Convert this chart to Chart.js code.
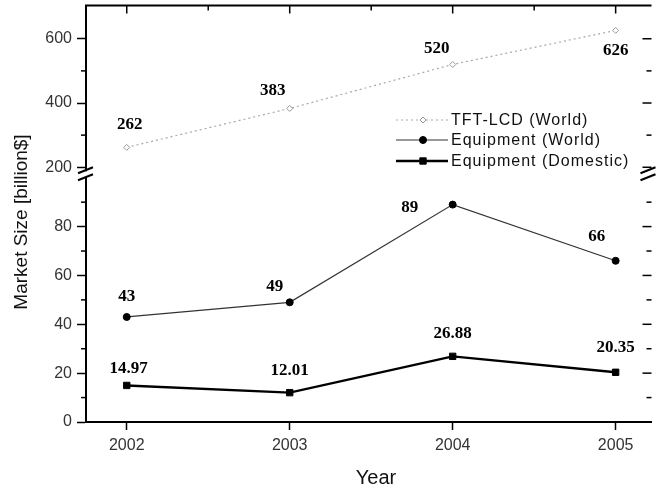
<!DOCTYPE html>
<html><head><meta charset="utf-8">
<script src="https://cdn.jsdelivr.net/npm/chart.js@4/dist/chart.umd.min.js"></script>
<style>html,body{margin:0;padding:0;background:#fff;overflow:hidden}#wrap{width:657px;height:491px;position:relative}</style>
</head><body><div id="wrap"><canvas id="c" width="657" height="491"></canvas></div>
<script>
// ---- data ----
const years = [2002, 2003, 2004, 2005];
const tftWorld = [262, 383, 520, 626];
const equipWorld = [43, 49, 89, 66];
const equipDomestic = [14.97, 12.01, 26.88, 20.35];
const seriesNames = ['TFT-LCD (World)', 'Equipment (World)', 'Equipment (Domestic)'];
const upperTicks = [200, 400, 600];
const lowerTicks = [0, 20, 40, 60, 80];
const upperMinor = [300, 500];
const lowerMinor = [10, 30, 50, 70, 90];
const xMinor = [2002.5, 2003.5, 2004.5];
const xTitle = 'Year';
const yTitle = 'Market Size [billion$]';

// label offsets (pixels) relative to each point, per dataset
const labelOffsets = [
  [[3,-23],[-17,-18],[-16,-16],[0,20]],
  [[0,-20],[-15,-16],[-43,3],[-19,-24]],
  [[2,-17],[0,-22],[0,-23],[0,-25]]
];

const pts = arr => arr.map((v,i)=>({x: years[i], y: v}));
const SANS = '"Liberation Sans", Arial, sans-serif';
const SERIF = '"Liberation Serif", "Times New Roman", serif';

const datasets = [
  {label: seriesNames[0], data: pts(tftWorld), yAxisID:'yTop', borderColor:'#a8a8a8', borderWidth:1.2, borderDash:[2,3],
   pointStyle:'rectRot', pointRadius:3, pointBackgroundColor:'#fff', pointBorderColor:'#999', pointBorderWidth:1},
  {label: seriesNames[1], data: pts(equipWorld), yAxisID:'yBot', borderColor:'#333', borderWidth:1.2,
   pointStyle:'circle', pointRadius:3.5, pointBackgroundColor:'#000', pointBorderColor:'#000', pointBorderWidth:1},
  {label: seriesNames[2], data: pts(equipDomestic), yAxisID:'yBot', borderColor:'#000', borderWidth:2.4,
   pointStyle:'rect', pointRadius:4.5, pointBackgroundColor:'#000', pointBorderColor:'#000', pointBorderWidth:1}
];

const noPad = s => { s.paddingTop = 0; s.paddingBottom = 0; s.paddingLeft = 0; s.paddingRight = 0; };

function yScale(min, max, weight, ticks) {
  return {
    type:'linear', position:'left', stack:'y', stackWeight: weight, min, max,
    afterBuildTicks: s => { s.ticks = ticks.map(v=>({value:v})); },
    afterFit: s => { s.width = 86; noPad(s); },
    ticks: {font:{family:SANS, size:16}, color:'#333', padding:5, callback: v => String(v)},
    grid: {display:true, drawOnChartArea:false, tickLength:9, tickColor:'#000', tickWidth:1.5},
    border: {display:true, color:'#000', width:2}
  };
}

const overlay = {
  id:'overlay',
  afterDraw(chart) {
    const ctx = chart.ctx, a = chart.chartArea;
    const sx = chart.scales.x, yt = chart.scales.yTop, yb = chart.scales.yBot;
    ctx.save();
    ctx.strokeStyle = '#000';
    // top frame
    ctx.lineWidth = 2;
    ctx.beginPath(); ctx.moveTo(a.left-1, a.top); ctx.lineTo(a.right, a.top); ctx.stroke();
    ctx.lineWidth = 1.5;
    // top ticks
    years.forEach(v=>{const x=sx.getPixelForValue(v); ctx.beginPath(); ctx.moveTo(x,a.top); ctx.lineTo(x,a.top+8); ctx.stroke();});
    xMinor.forEach(v=>{const x=sx.getPixelForValue(v); ctx.beginPath(); ctx.moveTo(x,a.top); ctx.lineTo(x,a.top+5); ctx.stroke();});
    // left minor + right ticks
    const yt2 = [[yt, upperTicks, 9],[yt, upperMinor, 5],[yb, lowerTicks, 9],[yb, lowerMinor, 5]];
    yt2.forEach(([sc, arr, len])=>{
      arr.forEach(v=>{
        const y = sc.getPixelForValue(v);
        if (len===5){ctx.beginPath(); ctx.moveTo(a.left-5,y); ctx.lineTo(a.left,y); ctx.stroke();}
        ctx.beginPath(); ctx.moveTo(a.right,y); ctx.lineTo(a.right-len,y); ctx.stroke();
      });
    });
    // axis break marks
    const by = yb.top;
    [a.left, a.right-3].forEach(ax=>{
      ctx.fillStyle = '#fff';
      ctx.fillRect(ax-3, by-4, 7, 6);
      ctx.lineWidth = 2;
      ctx.beginPath(); ctx.moveTo(ax-8, by-2); ctx.lineTo(ax+7, by-8); ctx.stroke();
      ctx.beginPath(); ctx.moveTo(ax-8, by+5); ctx.lineTo(ax+7, by-1); ctx.stroke();
    });
    // data labels
    ctx.fillStyle = '#000';
    ctx.font = 'bold 17px ' + SERIF;
    ctx.textAlign = 'center'; ctx.textBaseline = 'middle';
    chart.data.datasets.forEach((ds, di)=>{
      const meta = chart.getDatasetMeta(di);
      meta.data.forEach((el, i)=>{
        const [dx, dy] = labelOffsets[di][i];
        ctx.fillText(String(ds.data[i].y), el.x + dx, el.y + dy);
      });
    });
    // legend
    const rows = [120, 140, 161];
    ctx.font = '16px ' + SANS;
    ctx.letterSpacing = '1px';
    ctx.textAlign = 'left';
    chart.data.datasets.forEach((ds, di)=>{
      const y = rows[di];
      ctx.save();
      ctx.strokeStyle = ds.borderColor; ctx.lineWidth = ds.borderWidth;
      ctx.setLineDash(ds.borderDash || []);
      ctx.beginPath(); ctx.moveTo(396, y); ctx.lineTo(448, y); ctx.stroke();
      ctx.setLineDash([]);
      ctx.fillStyle = ds.pointBackgroundColor; ctx.strokeStyle = ds.pointBorderColor; ctx.lineWidth = ds.pointBorderWidth;
      Chart.helpers.drawPoint(ctx, {pointStyle: ds.pointStyle, radius: ds.pointRadius, borderWidth: ds.pointBorderWidth, rotation:0}, 423, y);
      ctx.restore();
      ctx.fillStyle = '#111';
      ctx.fillText(ds.label, 451, y+1);
    });
    ctx.letterSpacing = '0px';
    // axis titles
    ctx.fillStyle = '#111';
    ctx.textAlign = 'center';
    ctx.font = '20px ' + SANS;
    ctx.fillText(xTitle, 376, 478);
    ctx.save();
    ctx.translate(22, 222); ctx.rotate(-Math.PI/2);
    ctx.font = '19px ' + SANS;
    ctx.fillText(yTitle, 0, 0);
    ctx.restore();
    ctx.restore();
  }
};

new Chart(document.getElementById('c'), {
  type:'line',
  data:{datasets},
  options:{
    responsive:false, animation:false, devicePixelRatio:1,
    layout:{padding:{top:5, right:0, left:0, bottom:0}},
    plugins:{legend:{display:false}, tooltip:{enabled:false}},
    scales:{
      x:{type:'linear', min:2001.75, max:2005.22,
        afterBuildTicks: s => { s.ticks = years.map(v=>({value:v})); },
        afterFit: s => { s.height = 69; noPad(s); },
        ticks:{font:{family:SANS, size:16}, color:'#333', padding:6, maxRotation:0, autoSkip:false, callback: v => String(v)},
        grid:{display:true, drawOnChartArea:false, tickLength:8, tickColor:'#000', tickWidth:1.5},
        border:{display:true, color:'#000', width:2}},
      yBot: yScale(0, 101, 247, lowerTicks),
      yTop: yScale(175, 703.5, 170, upperTicks)
    }
  },
  plugins:[overlay]
});
</script></body></html>
